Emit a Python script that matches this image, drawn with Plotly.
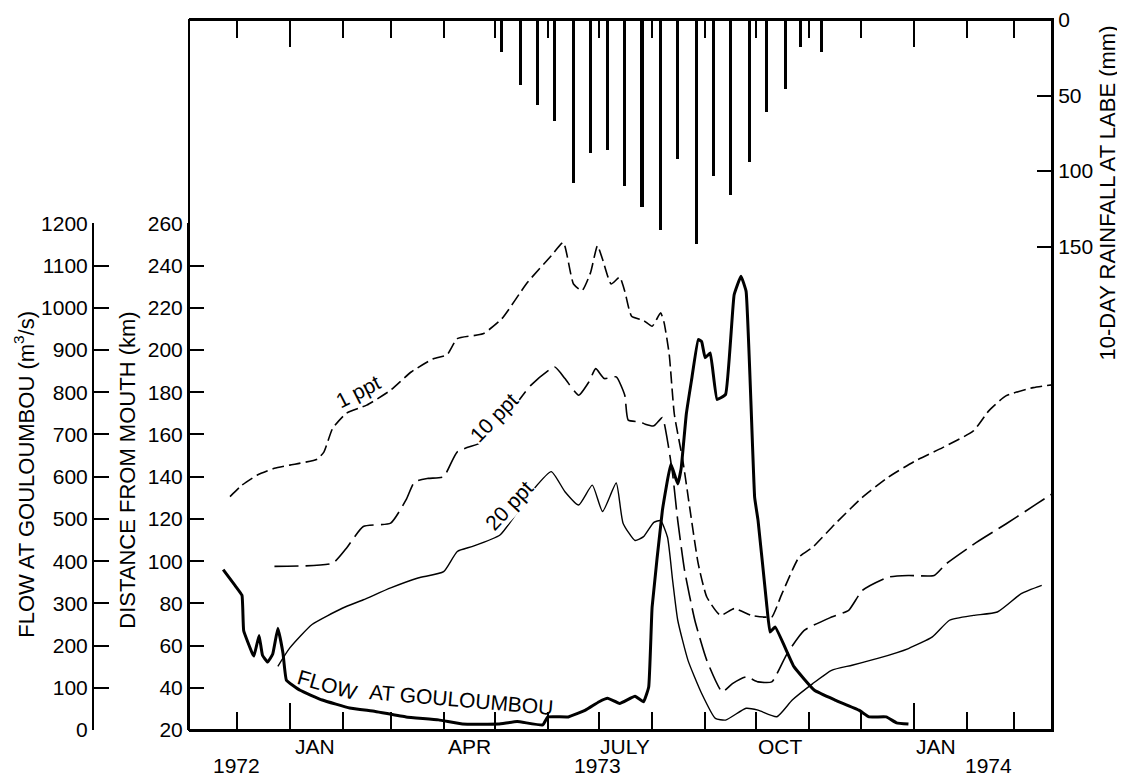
import plotly.graph_objects as go

# ---------------- data ----------------
flow_dates = ['1972-11-23', '1972-11-30', '1972-12-04', '1972-12-05', '1972-12-10', '1972-12-11',
              '1972-12-14', '1972-12-16', '1972-12-19', '1972-12-22', '1972-12-25', '1972-12-28',
              '1972-12-30', '1973-01-07', '1973-01-20', '1973-02-05', '1973-02-20', '1973-03-10',
              '1973-03-29', '1973-04-12', '1973-05-03', '1973-05-14', '1973-05-29', '1973-06-01',
              '1973-06-13', '1973-06-23', '1973-07-01', '1973-07-06', '1973-07-13', '1973-07-22',
              '1973-07-27', '1973-07-30', '1973-08-01', '1973-08-07', '1973-08-12', '1973-08-16',
              '1973-08-18', '1973-08-21', '1973-08-24', '1973-08-28', '1973-08-30', '1973-09-01',
              '1973-09-04', '1973-09-08', '1973-09-13', '1973-09-18', '1973-09-22', '1973-09-25',
              '1973-09-30', '1973-10-02', '1973-10-07', '1973-10-09', '1973-10-12', '1973-10-23',
              '1973-11-04', '1973-11-16', '1973-11-30', '1973-12-06', '1973-12-16', '1973-12-22',
              '1973-12-29']
flow_vals = [380, 342, 319, 235, 182, 175,
             224, 177, 161, 180, 241, 182,
             118, 94, 71, 52, 44, 31,
             24, 14, 14, 20, 12, 31,
             31, 47, 67, 75, 63, 80,
             67, 102, 291, 520, 630, 583,
             620, 748, 827, 925, 920, 882,
             893, 783, 795, 1031, 1075, 1039,
             551, 496, 299, 232, 244, 150,
             94, 71, 47, 31, 31, 17,
             14]

ppt1_dates = ['1972-11-27', '1972-12-04', '1972-12-13', '1972-12-23', '1973-01-01', '1973-01-17',
              '1973-01-21', '1973-01-26', '1973-02-03', '1973-02-15', '1973-03-01', '1973-03-13',
              '1973-03-26', '1973-04-03', '1973-04-09', '1973-04-24', '1973-05-05', '1973-05-20',
              '1973-06-03', '1973-06-10', '1973-06-16', '1973-06-21', '1973-06-26', '1973-06-30',
              '1973-07-03', '1973-07-08', '1973-07-13', '1973-07-16', '1973-07-20', '1973-07-27',
              '1973-08-01', '1973-08-06', '1973-08-08', '1973-08-11', '1973-08-14', '1973-08-19',
              '1973-08-23', '1973-08-28', '1973-09-02', '1973-09-10', '1973-09-18', '1973-09-28',
              '1973-10-06', '1973-10-10', '1973-10-16', '1973-10-26', '1973-11-03', '1973-11-16',
              '1973-12-02', '1973-12-17', '1974-01-02', '1974-01-18', '1974-02-05', '1974-02-14',
              '1974-02-24', '1974-03-12', '1974-03-26']
ppt1_vals = [130.6, 136, 140.8, 144, 145.5, 148.3,
             151.8, 162.8, 170, 173.9, 181, 189.6,
             195.9, 197.8, 205.4, 207.7, 214.8, 232,
             244.7, 251, 231.3, 228.2, 236.8, 249.4,
             243, 231.3, 234.5, 227.9, 216, 214,
             211.3, 217.6, 213, 198, 169.6, 147.5,
             125.4, 98.7, 83, 74.3, 77.5, 74.3,
             73.5, 73.5, 84.6, 101.9, 106.6, 117.6,
             130.2, 139.7, 147.5, 153.8, 161.7, 171.2,
             178.3, 182.2, 183.8]

ppt10_dates = ['1972-12-23', '1973-01-26', '1973-02-03', '1973-02-13', '1973-03-01', '1973-03-10',
               '1973-03-15', '1973-03-23', '1973-04-01', '1973-04-09', '1973-04-24', '1973-05-07',
               '1973-05-22', '1973-06-05', '1973-06-11', '1973-06-19', '1973-06-25', '1973-06-29',
               '1973-07-04', '1973-07-11', '1973-07-16', '1973-07-18', '1973-07-25', '1973-07-28',
               '1973-08-02', '1973-08-07', '1973-08-10', '1973-08-13', '1973-08-16', '1973-08-20',
               '1973-08-26', '1973-09-02', '1973-09-11', '1973-09-17', '1973-09-25', '1973-10-02',
               '1973-10-10', '1973-10-19', '1973-10-29', '1973-11-14', '1973-11-24', '1973-12-02',
               '1973-12-17', '1973-12-29', '1974-01-13', '1974-01-20', '1974-02-07', '1974-02-24',
               '1974-03-14', '1974-03-26']
ppt10_vals = [97.5, 99, 106, 116.4, 118, 129,
              137.6, 139.2, 140, 151.8, 156.5, 167.6,
              183.3, 192, 186.5, 178.6, 184.9, 191.2,
              186.5, 187.3, 178.6, 166.8, 166, 164.9,
              164.1, 168, 157, 141.3, 119.2, 95.6,
              72, 53, 38.1, 42, 45.2, 42.8,
              42.8, 56.2, 67.2, 73.5, 76.7, 86.1,
              92.4, 93.2, 93.2, 98.7, 109, 117.6,
              127.1, 133.4]

ppt20_dates = ['1972-12-25', '1973-01-01', '1973-01-14', '1973-02-01', '1973-02-13', '1973-03-01',
               '1973-03-17', '1973-04-01', '1973-04-09', '1973-04-18', '1973-05-04', '1973-05-13',
               '1973-05-24', '1973-06-03', '1973-06-11', '1973-06-19', '1973-06-27', '1973-07-03',
               '1973-07-11', '1973-07-15', '1973-07-22', '1973-07-27', '1973-08-02', '1973-08-06',
               '1973-08-10', '1973-08-13', '1973-08-16', '1973-08-22', '1973-08-30', '1973-09-07',
               '1973-09-13', '1973-09-25', '1973-10-02', '1973-10-13', '1973-10-22', '1973-11-03',
               '1973-11-14', '1973-11-26', '1973-12-11', '1973-12-29', '1974-01-12', '1974-01-22',
               '1974-02-05', '1974-02-19', '1974-03-05', '1974-03-17']
ppt20_vals = [50.2, 58.9, 70, 77.8, 81.7, 87.3,
              92, 95, 104.6, 107, 112.4, 121.9,
              134.4, 142.4, 132.9, 126.6, 136, 123.5,
              137, 118, 109.8, 111.6, 118.4, 119.2,
              111.3, 90.9, 72, 53, 37.3, 25.5,
              24.7, 30.3, 29.4, 26.3, 34.2, 42,
              48.3, 50.7, 53.9, 58.6, 64.1, 72,
              74.3, 75.9, 84.6, 88.5]

rain_dates = ['1973-05-05', '1973-05-16', '1973-05-26', '1973-06-05', '1973-06-16', '1973-06-26',
              '1973-07-06', '1973-07-16', '1973-07-26', '1973-08-06', '1973-08-16', '1973-08-27',
              '1973-09-06', '1973-09-16', '1973-09-27', '1973-10-07', '1973-10-18', '1973-10-27',
              '1973-11-08']
rain_vals = [21, 43, 56, 67, 108, 88,
             86, 110, 124, 139, 92, 148,
             103, 116, 94, 61, 46, 18,
             21]

month_tick_dates = ['1972-12-01', '1973-02-01', '1973-03-01', '1973-04-01', '1973-05-01',
                    '1973-06-01', '1973-07-01', '1973-08-01', '1973-09-01', '1973-10-01',
                    '1973-11-01', '1973-12-01', '1974-02-01', '1974-03-01']
year_tick_dates = ['1973-01-01', '1974-01-01']
month_label_text = ['JAN', 'APR', 'JULY', 'OCT', 'JAN']
month_label_dates = ['1973-01-16', '1973-04-16', '1973-07-16', '1973-10-15', '1974-01-14']
year_label_text = ['1972', '1973', '1974']
year_label_dates = ['1972-12-01', '1973-06-30', '1974-02-14']
dist_ticks = list(range(20, 261, 20))
flow_ticks = list(range(0, 1201, 100))
rain_ticks = [0, 50, 100, 150]

# ---------------- figure ----------------
FONT = 'Liberation Sans, Arial, sans-serif'
OFF = 8                      # page body margin in the browser
W, H = 1125 - OFF, 777 - OFF
L_PX, R_PX, T_PX, B_PX = 189, 1052, 18, 730   # page pixel positions of the frame
PH = B_PX - T_PX
xd0, xd1 = (L_PX - OFF) / W, (R_PX - OFF) / W
low_dom = (B_PX - 222) / PH


def px(x):
    return (x - OFF) / W


def py(y):
    return (B_PX - y) / PH


fig = go.Figure()

fig.add_trace(go.Bar(x=rain_dates, y=rain_vals, base=0, width=1.7e8,
                     marker=dict(color='black', line=dict(width=0)),
                     xaxis='x', yaxis='y3', showlegend=False))
fig.add_trace(go.Scatter(x=ppt1_dates, y=ppt1_vals, mode='lines', xaxis='x', yaxis='y',
                         line=dict(color='black', width=1.6, dash='12px,5px', shape='spline', smoothing=0.5),
                         showlegend=False))
fig.add_trace(go.Scatter(x=ppt10_dates, y=ppt10_vals, mode='lines', xaxis='x', yaxis='y',
                         line=dict(color='black', width=1.6, dash='24px,7px', shape='spline', smoothing=0.5),
                         showlegend=False))
fig.add_trace(go.Scatter(x=ppt20_dates, y=ppt20_vals, mode='lines', xaxis='x', yaxis='y',
                         line=dict(color='black', width=1.4, shape='spline', smoothing=0.5),
                         showlegend=False))
fig.add_trace(go.Scatter(x=flow_dates, y=flow_vals, mode='lines', xaxis='x', yaxis='y2',
                         line=dict(color='black', width=3, shape='spline', smoothing=0.3),
                         showlegend=False))

tickfont = dict(family=FONT, size=21, color='black')

fig.update_layout(
    width=W, height=H,
    margin=dict(l=0, r=0, t=T_PX - OFF, b=H - (B_PX - OFF), pad=0),
    paper_bgcolor='white', plot_bgcolor='rgba(0,0,0,0)',
    showlegend=False,
    bargap=0,
    xaxis=dict(
        domain=[xd0, xd1], anchor='y3', type='date',
        range=['1972-11-03', '1974-03-23'],
        tickmode='array', tickvals=year_tick_dates, showticklabels=False,
        ticks='inside', ticklen=27, tickwidth=2, tickcolor='black',
        minor=dict(tickmode='array', tickvals=month_tick_dates, ticks='inside',
                   ticklen=18, tickwidth=2, tickcolor='black', showgrid=False),
        mirror='ticks', showline=True, linecolor='black', linewidth=2,
        showgrid=False, zeroline=False,
    ),
    yaxis=dict(
        domain=[0, low_dom], anchor='x', range=[20, 260],
        tickmode='array', tickvals=dist_ticks,
        ticks='inside', ticklen=15, tickwidth=2, tickcolor='black',
        showline=True, linecolor='black', linewidth=2,
        showgrid=False, zeroline=False, tickfont=tickfont,
    ),
    yaxis2=dict(
        domain=[0, low_dom], anchor='free', position=px(93), side='left',
        range=[0, 1200], tickmode='array', tickvals=flow_ticks,
        ticks='inside', ticklen=15, tickwidth=2, tickcolor='black',
        showline=True, linecolor='black', linewidth=2,
        showgrid=False, zeroline=False, tickfont=tickfont,
    ),
    yaxis3=dict(
        domain=[0, 1], anchor='x', side='right', range=[470, 0],
        tickmode='array', tickvals=rain_ticks,
        ticks='inside', ticklen=15, tickwidth=2, tickcolor='black',
        showline=True, linecolor='black', linewidth=2,
        showgrid=False, zeroline=False, tickfont=tickfont,
    ),
)

# frame
fig.add_shape(type='rect', xref='paper', yref='paper', x0=xd0, x1=xd1, y0=0, y1=1,
              line=dict(color='black', width=2), fillcolor='rgba(0,0,0,0)', layer='above')

ann = []
for t, d in zip(month_label_text, month_label_dates):
    ann.append(dict(x=d, y=py(747), xref='x', yref='paper', text=t, showarrow=False,
                    xanchor='center', yanchor='middle', font=tickfont))
for t, d in zip(year_label_text, year_label_dates):
    ann.append(dict(x=d, y=py(766), xref='x', yref='paper', text=t, showarrow=False,
                    xanchor='center', yanchor='middle', font=tickfont))

titlefont = dict(family=FONT, size=22, color='black')
ann.append(dict(x=px(24), y=py(474), xref='paper', yref='paper', textangle=-90,
                text='FLOW AT GOULOUMBOU (m<sup>3</sup>/s)', showarrow=False,
                xanchor='center', yanchor='middle', font=titlefont))
ann.append(dict(x=px(128), y=py(470), xref='paper', yref='paper', textangle=-90,
                text='DISTANCE FROM MOUTH (km)', showarrow=False,
                xanchor='center', yanchor='middle', font=titlefont))
ann.append(dict(x=px(1108), y=py(192), xref='paper', yref='paper', textangle=-90,
                text='10-DAY RAINFALL AT LABE (mm)', showarrow=False,
                xanchor='center', yanchor='middle', font=titlefont))

labfont = dict(family=FONT, size=21, color='black')
curve_labels = [('1 ppt', 358, 391, -27, True),
                ('10 ppt', 494, 417, -46, True),
                ('20 ppt', 509, 505, -47, True),
                ('FLOW', 327, 684, 16, False),
                ('AT GOULOUMBOU', 461, 699, 5, False)]
for t, x, y, a, bg in curve_labels:
    ann.append(dict(x=px(x), y=py(y), xref='paper', yref='paper', textangle=a,
                    text=t, showarrow=False, font=labfont, xanchor='center', yanchor='middle',
                    bgcolor='white' if bg else 'rgba(0,0,0,0)', borderpad=0))

fig.update_layout(annotations=ann)

fig.write_html('out.html')
